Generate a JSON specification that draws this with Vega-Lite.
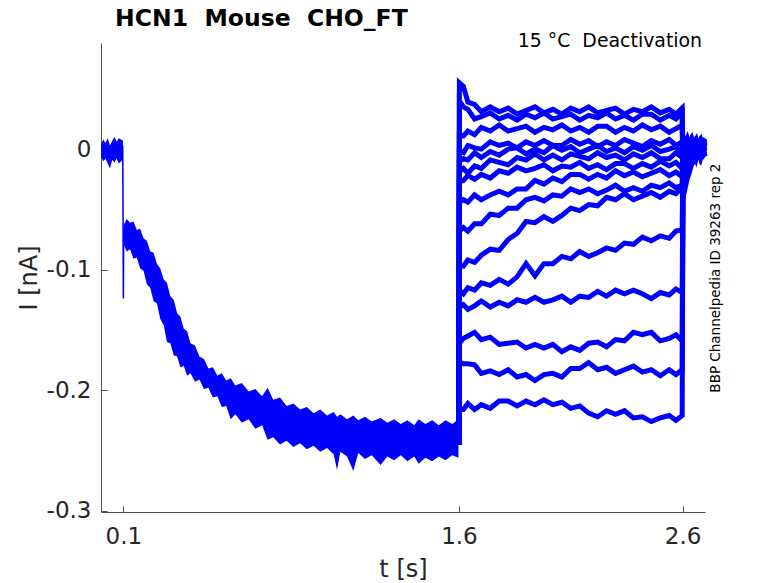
{
  "$schema": "https://vega.github.io/schema/vega-lite/v6.json",
  "width": 604,
  "height": 469,
  "autosize": {"type": "none"},
  "padding": {"left": 101, "top": 43, "right": 73, "bottom": 71},
  "datasets": {
    "pre": [
      {"t": 0.0, "hi": 0.004, "lo": -0.006},
      {"t": 0.01, "hi": 0.008, "lo": -0.01},
      {"t": 0.02, "hi": 0.005, "lo": -0.008},
      {"t": 0.03, "hi": 0.009, "lo": -0.012},
      {"t": 0.04, "hi": 0.003, "lo": -0.016},
      {"t": 0.05, "hi": 0.007, "lo": -0.009},
      {"t": 0.06, "hi": 0.01, "lo": -0.011},
      {"t": 0.07, "hi": 0.006, "lo": -0.008},
      {"t": 0.08, "hi": 0.009, "lo": -0.012},
      {"t": 0.09, "hi": 0.008, "lo": -0.01},
      {"t": 0.098, "hi": 0.007, "lo": -0.009},
      {"t": 0.101, "hi": -0.063, "lo": -0.079},
      {"t": 0.115, "hi": -0.058, "lo": -0.085},
      {"t": 0.13, "hi": -0.061, "lo": -0.083},
      {"t": 0.145, "hi": -0.06, "lo": -0.091},
      {"t": 0.16, "hi": -0.067, "lo": -0.09},
      {"t": 0.175, "hi": -0.066, "lo": -0.099},
      {"t": 0.19, "hi": -0.074, "lo": -0.101},
      {"t": 0.205, "hi": -0.076, "lo": -0.112},
      {"t": 0.22, "hi": -0.085, "lo": -0.115},
      {"t": 0.235, "hi": -0.086, "lo": -0.126},
      {"t": 0.25, "hi": -0.095, "lo": -0.128},
      {"t": 0.265, "hi": -0.099, "lo": -0.141},
      {"t": 0.28, "hi": -0.108, "lo": -0.146},
      {"t": 0.295, "hi": -0.111, "lo": -0.16},
      {"t": 0.31, "hi": -0.122, "lo": -0.161},
      {"t": 0.325, "hi": -0.125, "lo": -0.171},
      {"t": 0.34, "hi": -0.136, "lo": -0.172},
      {"t": 0.355, "hi": -0.139, "lo": -0.181},
      {"t": 0.37, "hi": -0.149, "lo": -0.18},
      {"t": 0.385, "hi": -0.151, "lo": -0.188},
      {"t": 0.4, "hi": -0.161, "lo": -0.186},
      {"t": 0.42, "hi": -0.163, "lo": -0.193},
      {"t": 0.44, "hi": -0.172, "lo": -0.191},
      {"t": 0.46, "hi": -0.174, "lo": -0.199},
      {"t": 0.48, "hi": -0.182, "lo": -0.198},
      {"t": 0.5, "hi": -0.181, "lo": -0.206},
      {"t": 0.52, "hi": -0.188, "lo": -0.205},
      {"t": 0.54, "hi": -0.186, "lo": -0.214},
      {"t": 0.56, "hi": -0.192, "lo": -0.213},
      {"t": 0.58, "hi": -0.19, "lo": -0.224},
      {"t": 0.6, "hi": -0.196, "lo": -0.22},
      {"t": 0.63, "hi": -0.194, "lo": -0.227},
      {"t": 0.66, "hi": -0.201, "lo": -0.224},
      {"t": 0.69, "hi": -0.199, "lo": -0.232},
      {"t": 0.72, "hi": -0.205, "lo": -0.229},
      {"t": 0.745, "hi": -0.198, "lo": -0.241},
      {"t": 0.77, "hi": -0.208, "lo": -0.239},
      {"t": 0.8, "hi": -0.206, "lo": -0.245},
      {"t": 0.83, "hi": -0.213, "lo": -0.242},
      {"t": 0.86, "hi": -0.211, "lo": -0.247},
      {"t": 0.89, "hi": -0.216, "lo": -0.244},
      {"t": 0.92, "hi": -0.214, "lo": -0.249},
      {"t": 0.95, "hi": -0.219, "lo": -0.246},
      {"t": 0.98, "hi": -0.216, "lo": -0.251},
      {"t": 1.01, "hi": -0.221, "lo": -0.248},
      {"t": 1.04, "hi": -0.218, "lo": -0.253},
      {"t": 1.055, "hi": -0.222, "lo": -0.266},
      {"t": 1.07, "hi": -0.22, "lo": -0.251},
      {"t": 1.1, "hi": -0.224, "lo": -0.255},
      {"t": 1.128, "hi": -0.221, "lo": -0.267},
      {"t": 1.15, "hi": -0.225, "lo": -0.252},
      {"t": 1.18, "hi": -0.222, "lo": -0.257},
      {"t": 1.21, "hi": -0.226, "lo": -0.254},
      {"t": 1.25, "hi": -0.223, "lo": -0.262},
      {"t": 1.28, "hi": -0.227, "lo": -0.255},
      {"t": 1.31, "hi": -0.224, "lo": -0.258},
      {"t": 1.34, "hi": -0.228, "lo": -0.254},
      {"t": 1.37, "hi": -0.225, "lo": -0.259},
      {"t": 1.4, "hi": -0.229, "lo": -0.255},
      {"t": 1.42, "hi": -0.224, "lo": -0.261},
      {"t": 1.45, "hi": -0.228, "lo": -0.256},
      {"t": 1.48, "hi": -0.225, "lo": -0.259},
      {"t": 1.51, "hi": -0.229, "lo": -0.255},
      {"t": 1.54, "hi": -0.225, "lo": -0.258},
      {"t": 1.57, "hi": -0.228, "lo": -0.254},
      {"t": 1.598, "hi": -0.224, "lo": -0.256}
    ],
    "spike": [
      {"t": 0.097, "I": 0.003},
      {"t": 0.1, "I": -0.124},
      {"t": 0.1015, "I": -0.066}
    ],
    "sweeps": [
      {"t": 1.6, "s1": -0.245, "s2": -0.245, "s3": -0.245, "s4": -0.245, "s5": -0.245, "s6": -0.245, "s7": -0.245, "s8": -0.245, "s9": -0.245, "s10": -0.245, "s11": -0.245, "s12": -0.245, "s13": -0.245, "s14": -0.245, "s15": -0.245},
      {"t": 1.602, "s1": 0.055, "s2": 0.04, "s3": 0.012, "s4": -0.002, "s5": -0.01, "s6": -0.019, "s7": -0.027, "s8": -0.044, "s9": -0.068, "s10": -0.096, "s11": -0.117, "s12": -0.131, "s13": -0.161, "s14": -0.177, "s15": -0.216},
      {"t": 1.62, "s1": 0.052, "s2": 0.035, "s3": 0.011, "s4": -0.003, "s5": -0.008, "s6": -0.016, "s7": -0.026, "s8": -0.042, "s9": -0.065, "s10": -0.097, "s11": -0.12, "s12": -0.129, "s13": -0.157, "s14": -0.178, "s15": -0.216},
      {"t": 1.64, "s1": 0.039, "s2": 0.033, "s3": 0.015, "s4": 0.003, "s5": -0.009, "s6": -0.02, "s7": -0.022, "s8": -0.044, "s9": -0.068, "s10": -0.092, "s11": -0.115, "s12": -0.133, "s13": -0.155, "s14": -0.178, "s15": -0.211},
      {"t": 1.67, "s1": 0.037, "s2": 0.025, "s3": 0.012, "s4": 0.001, "s5": -0.003, "s6": -0.014, "s7": -0.025, "s8": -0.038, "s9": -0.062, "s10": -0.094, "s11": -0.117, "s12": -0.13, "s13": -0.152, "s14": -0.179, "s15": -0.216},
      {"t": 1.7, "s1": 0.031, "s2": 0.027, "s3": 0.018, "s4": 0.0, "s5": -0.007, "s6": -0.016, "s7": -0.021, "s8": -0.042, "s9": -0.062, "s10": -0.088, "s11": -0.111, "s12": -0.126, "s13": -0.158, "s14": -0.186, "s15": -0.212},
      {"t": 1.74, "s1": 0.035, "s2": 0.03, "s3": 0.015, "s4": 0.006, "s5": -0.002, "s6": -0.009, "s7": -0.024, "s8": -0.038, "s9": -0.054, "s10": -0.083, "s11": -0.113, "s12": -0.131, "s13": -0.156, "s14": -0.184, "s15": -0.215},
      {"t": 1.78, "s1": 0.031, "s2": 0.025, "s3": 0.02, "s4": 0.003, "s5": -0.005, "s6": -0.011, "s7": -0.018, "s8": -0.035, "s9": -0.055, "s10": -0.084, "s11": -0.108, "s12": -0.127, "s13": -0.162, "s14": -0.187, "s15": -0.209},
      {"t": 1.82, "s1": 0.034, "s2": 0.028, "s3": 0.015, "s4": 0.005, "s5": 0.0, "s6": -0.013, "s7": -0.02, "s8": -0.038, "s9": -0.049, "s10": -0.075, "s11": -0.112, "s12": -0.13, "s13": -0.161, "s14": -0.183, "s15": -0.209},
      {"t": 1.86, "s1": 0.029, "s2": 0.024, "s3": 0.017, "s4": 0.001, "s5": 0.001, "s6": -0.007, "s7": -0.015, "s8": -0.033, "s9": -0.049, "s10": -0.07, "s11": -0.106, "s12": -0.125, "s13": -0.16, "s14": -0.189, "s15": -0.213},
      {"t": 1.9, "s1": 0.032, "s2": 0.029, "s3": 0.019, "s4": 0.006, "s5": -0.004, "s6": -0.009, "s7": -0.018, "s8": -0.033, "s9": -0.042, "s10": -0.06, "s11": -0.095, "s12": -0.127, "s13": -0.165, "s14": -0.187, "s15": -0.209},
      {"t": 1.94, "s1": 0.035, "s2": 0.026, "s3": 0.014, "s4": 0.003, "s5": 0.0, "s6": -0.004, "s7": -0.016, "s8": -0.026, "s9": -0.04, "s10": -0.061, "s11": -0.105, "s12": -0.123, "s13": -0.162, "s14": -0.192, "s15": -0.212},
      {"t": 1.98, "s1": 0.03, "s2": 0.03, "s3": 0.018, "s4": 0.007, "s5": -0.003, "s6": -0.009, "s7": -0.013, "s8": -0.029, "s9": -0.043, "s10": -0.056, "s11": -0.095, "s12": -0.127, "s13": -0.165, "s14": -0.187, "s15": -0.208},
      {"t": 2.02, "s1": 0.033, "s2": 0.025, "s3": 0.016, "s4": 0.003, "s5": 0.003, "s6": -0.005, "s7": -0.018, "s8": -0.024, "s9": -0.038, "s10": -0.06, "s11": -0.095, "s12": -0.125, "s13": -0.162, "s14": -0.186, "s15": -0.212},
      {"t": 2.06, "s1": 0.029, "s2": 0.027, "s3": 0.02, "s4": 0.003, "s5": -0.001, "s6": -0.009, "s7": -0.014, "s8": -0.027, "s9": -0.039, "s10": -0.055, "s11": -0.089, "s12": -0.122, "s13": -0.168, "s14": -0.189, "s15": -0.21},
      {"t": 2.1, "s1": 0.034, "s2": 0.029, "s3": 0.015, "s4": 0.008, "s5": 0.002, "s6": -0.004, "s7": -0.015, "s8": -0.021, "s9": -0.033, "s10": -0.049, "s11": -0.091, "s12": -0.127, "s13": -0.164, "s14": -0.182, "s15": -0.215},
      {"t": 2.14, "s1": 0.031, "s2": 0.024, "s3": 0.018, "s4": 0.004, "s5": -0.003, "s6": -0.006, "s7": -0.011, "s8": -0.021, "s9": -0.036, "s10": -0.051, "s11": -0.085, "s12": -0.122, "s13": -0.167, "s14": -0.182, "s15": -0.213},
      {"t": 2.18, "s1": 0.035, "s2": 0.028, "s3": 0.014, "s4": 0.007, "s5": 0.0, "s6": -0.008, "s7": -0.016, "s8": -0.025, "s9": -0.033, "s10": -0.046, "s11": -0.089, "s12": -0.123, "s13": -0.161, "s14": -0.177, "s15": -0.219},
      {"t": 2.22, "s1": 0.03, "s2": 0.026, "s3": 0.019, "s4": 0.002, "s5": 0.003, "s6": -0.003, "s7": -0.013, "s8": -0.021, "s9": -0.037, "s10": -0.047, "s11": -0.086, "s12": -0.118, "s13": -0.16, "s14": -0.183, "s15": -0.222},
      {"t": 2.26, "s1": 0.032, "s2": 0.03, "s3": 0.019, "s4": 0.006, "s5": -0.002, "s6": -0.007, "s7": -0.017, "s8": -0.024, "s9": -0.034, "s10": -0.04, "s11": -0.082, "s12": -0.122, "s13": -0.164, "s14": -0.181, "s15": -0.217},
      {"t": 2.3, "s1": 0.034, "s2": 0.025, "s3": 0.014, "s4": 0.003, "s5": 0.001, "s6": -0.005, "s7": -0.012, "s8": -0.018, "s9": -0.03, "s10": -0.042, "s11": -0.084, "s12": -0.117, "s13": -0.158, "s14": -0.186, "s15": -0.22},
      {"t": 2.34, "s1": 0.029, "s2": 0.028, "s3": 0.018, "s4": 0.008, "s5": -0.003, "s6": -0.009, "s7": -0.012, "s8": -0.022, "s9": -0.035, "s10": -0.037, "s11": -0.078, "s12": -0.12, "s13": -0.159, "s14": -0.183, "s15": -0.217},
      {"t": 2.38, "s1": 0.033, "s2": 0.024, "s3": 0.015, "s4": 0.005, "s5": 0.002, "s6": -0.004, "s7": -0.016, "s8": -0.019, "s9": -0.032, "s10": -0.042, "s11": -0.079, "s12": -0.117, "s13": -0.152, "s14": -0.18, "s15": -0.223},
      {"t": 2.42, "s1": 0.031, "s2": 0.029, "s3": 0.02, "s4": 0.002, "s5": -0.001, "s6": -0.007, "s7": -0.012, "s8": -0.023, "s9": -0.035, "s10": -0.039, "s11": -0.073, "s12": -0.12, "s13": -0.154, "s14": -0.185, "s15": -0.222},
      {"t": 2.46, "s1": 0.035, "s2": 0.029, "s3": 0.016, "s4": 0.007, "s5": 0.003, "s6": -0.003, "s7": -0.015, "s8": -0.02, "s9": -0.03, "s10": -0.036, "s11": -0.076, "s12": -0.124, "s13": -0.152, "s14": -0.183, "s15": -0.226},
      {"t": 2.5, "s1": 0.03, "s2": 0.024, "s3": 0.019, "s4": 0.004, "s5": -0.002, "s6": -0.008, "s7": -0.01, "s8": -0.017, "s9": -0.032, "s10": -0.04, "s11": -0.072, "s12": -0.119, "s13": -0.159, "s14": -0.188, "s15": -0.223},
      {"t": 2.54, "s1": 0.033, "s2": 0.028, "s3": 0.014, "s4": 0.008, "s5": 0.0, "s6": -0.008, "s7": -0.014, "s8": -0.022, "s9": -0.028, "s10": -0.035, "s11": -0.074, "s12": -0.121, "s13": -0.157, "s14": -0.183, "s15": -0.221},
      {"t": 2.57, "s1": 0.029, "s2": 0.025, "s3": 0.017, "s4": 0.003, "s5": 0.002, "s6": -0.003, "s7": -0.011, "s8": -0.019, "s9": -0.032, "s10": -0.037, "s11": -0.068, "s12": -0.116, "s13": -0.154, "s14": -0.187, "s15": -0.225},
      {"t": 2.598, "s1": 0.034, "s2": 0.03, "s3": 0.02, "s4": 0.006, "s5": -0.003, "s6": -0.007, "s7": -0.016, "s8": -0.023, "s9": -0.03, "s10": -0.032, "s11": -0.067, "s12": -0.119, "s13": -0.159, "s14": -0.183, "s15": -0.221},
      {"t": 2.602, "s1": -0.04, "s2": -0.032, "s3": -0.024, "s4": -0.016, "s5": 0.008, "s6": 0.005, "s7": -0.005, "s8": 0.007, "s9": 0.002, "s10": -0.008, "s11": 0.006, "s12": -0.003, "s13": 0.009, "s14": -0.006, "s15": 0.004},
      {"t": 2.62, "s1": -0.025, "s2": -0.018, "s3": -0.013, "s4": -0.006, "s5": -0.004, "s6": 0.008, "s7": 0.003, "s8": -0.006, "s9": 0.009, "s10": 0.004, "s11": -0.007, "s12": 0.006, "s13": 0.001, "s14": 0.007, "s15": -0.002},
      {"t": 2.64, "s1": -0.013, "s2": -0.009, "s3": -0.005, "s4": 0.003, "s5": 0.006, "s6": -0.003, "s7": 0.009, "s8": 0.002, "s9": -0.005, "s10": 0.007, "s11": 0.004, "s12": -0.008, "s13": -0.006, "s14": 0.003, "s15": 0.008},
      {"t": 2.66, "s1": -0.006, "s2": -0.003, "s3": 0.004, "s4": -0.003, "s5": -0.002, "s6": 0.006, "s7": -0.004, "s8": 0.008, "s9": 0.003, "s10": -0.006, "s11": 0.001, "s12": 0.007, "s13": 0.005, "s14": -0.008, "s15": 0.002},
      {"t": 2.68, "s1": -0.002, "s2": 0.002, "s3": -0.002, "s4": 0.005, "s5": 0.007, "s6": -0.005, "s7": 0.002, "s8": -0.007, "s9": 0.008, "s10": 0.003, "s11": -0.008, "s12": 0.004, "s13": -0.003, "s14": 0.006, "s15": -0.004},
      {"t": 2.7, "s1": 0.003, "s2": -0.004, "s3": 0.006, "s4": -0.001, "s5": 0.0, "s6": 0.004, "s7": 0.008, "s8": 0.001, "s9": -0.006, "s10": 0.009, "s11": 0.005, "s12": -0.002, "s13": 0.007, "s14": 0.002, "s15": -0.007}
    ]
  },
  "layer": [
    {
      "data": {"name": "pre"},
      "mark": {"type": "area", "color": "#0000ff", "opacity": 1},
      "encoding": {
        "x": {
          "field": "t",
          "type": "quantitative",
          "scale": {"domain": [0, 2.7], "nice": false, "zero": false},
          "axis": {
            "values": [0.1, 1.6, 2.6],
            "format": ".1f",
            "title": "t [s]",
            "labelPadding": 19,
            "titlePadding": 9
          }
        },
        "y": {
          "field": "hi",
          "type": "quantitative",
          "scale": {"domain": [-0.301, 0.088], "nice": false, "zero": false},
          "axis": {
            "values": [-0.3, -0.2, -0.1, 0],
            "labelExpr": "datum.value == 0 ? '0' : '-' + format(-datum.value, '.1f')",
            "title": "I [nA]",
            "labelPadding": 16,
            "titlePadding": 5
          }
        },
        "y2": {"field": "lo"}
      }
    },
    {
      "data": {"name": "spike"},
      "mark": {"type": "line", "color": "#0000ff", "strokeWidth": 1.5},
      "encoding": {
        "x": {"field": "t", "type": "quantitative"},
        "y": {"field": "I", "type": "quantitative"}
      }
    },
    {
      "data": {"name": "sweeps"},
      "transform": [
        {"fold": ["s1", "s2", "s3", "s4", "s5", "s6", "s7", "s8", "s9", "s10", "s11", "s12", "s13", "s14", "s15"], "as": ["sweep", "I"]}
      ],
      "mark": {"type": "line", "color": "#0000ff", "strokeWidth": 5},
      "encoding": {
        "x": {"field": "t", "type": "quantitative"},
        "y": {"field": "I", "type": "quantitative"},
        "detail": {"field": "sweep", "type": "nominal"}
      }
    },
    {
      "data": {"values": [{}]},
      "mark": {"type": "text", "align": "left", "baseline": "alphabetic", "font": "DejaVu Sans", "fontSize": 23.5, "fontWeight": "bold", "color": "#000000"},
      "encoding": {
        "x": {"datum": 0.063, "type": "quantitative"},
        "y": {"datum": 0.102, "type": "quantitative"},
        "text": {"value": "HCN1 \u00a0Mouse \u00a0CHO_FT"}
      }
    },
    {
      "data": {"values": [{}]},
      "mark": {"type": "text", "align": "right", "baseline": "alphabetic", "font": "DejaVu Sans", "fontSize": 18.9, "color": "#000000"},
      "encoding": {
        "x": {"datum": 2.687, "type": "quantitative"},
        "y": {"datum": 0.085, "type": "quantitative"},
        "text": {"value": "15 °C \u00a0Deactivation"}
      }
    },
    {
      "data": {"values": [{}]},
      "mark": {"type": "text", "align": "center", "baseline": "middle", "angle": 270, "font": "DejaVu Sans", "fontSize": 13.5, "color": "#000000"},
      "encoding": {
        "x": {"datum": 2.75, "type": "quantitative"},
        "y": {"datum": -0.107, "type": "quantitative"},
        "text": {"value": "BBP Channelpedia ID 39263 rep 2"}
      }
    }
  ],
  "config": {
    "view": {"stroke": null},
    "axis": {
      "grid": false,
      "domainColor": "#4d4d4d",
      "domainWidth": 1,
      "tickColor": "#4d4d4d",
      "tickSize": -6,
      "tickWidth": 1,
      "labelFont": "DejaVu Sans",
      "labelFontSize": 23,
      "labelColor": "#262626",
      "titleFont": "DejaVu Sans",
      "titleFontSize": 24,
      "titleFontWeight": "normal",
      "titleColor": "#262626"
    }
  }
}
